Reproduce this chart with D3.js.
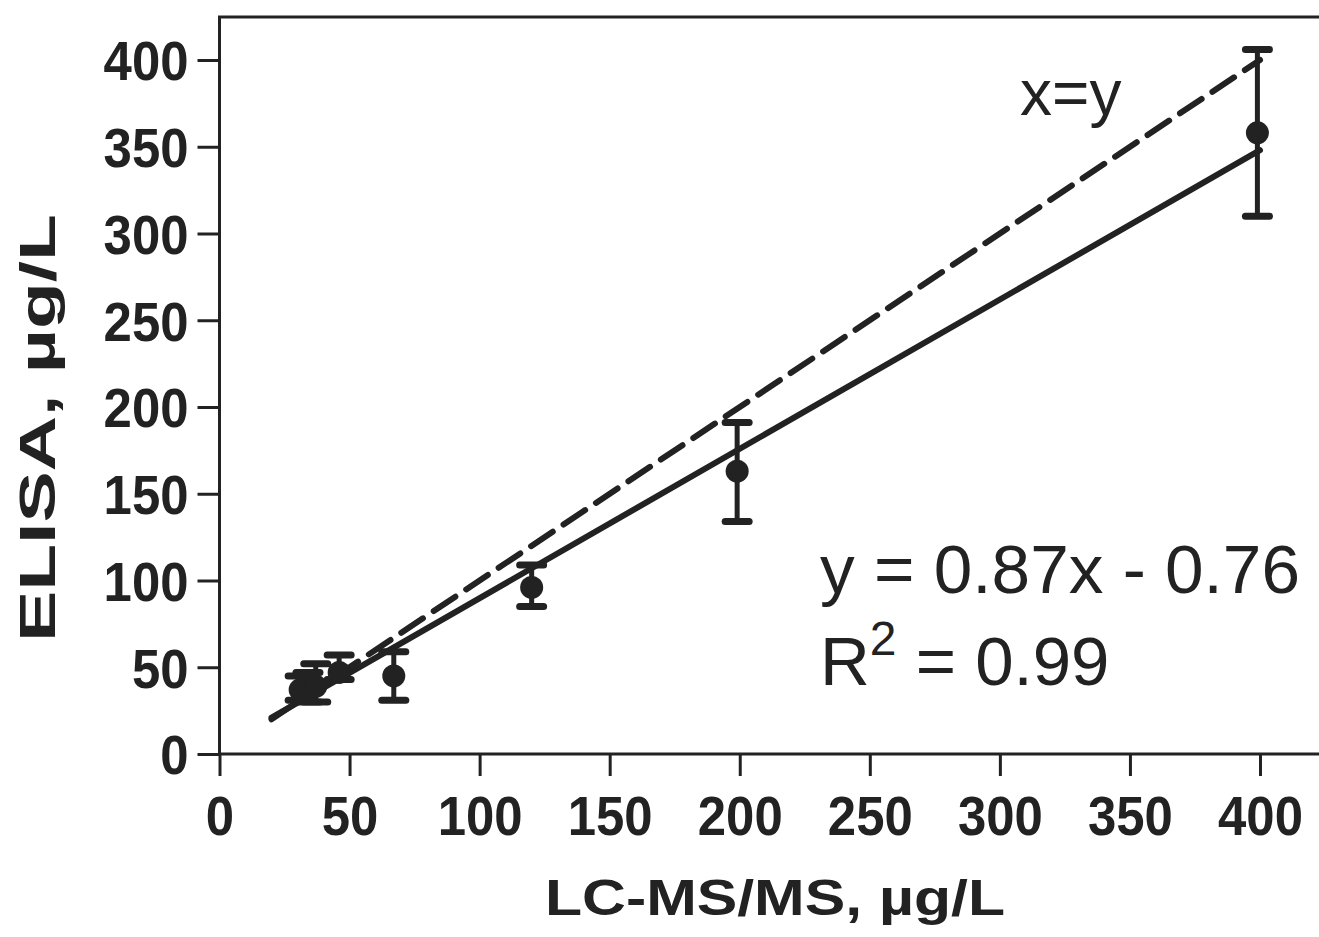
<!DOCTYPE html>
<html>
<head>
<meta charset="utf-8">
<script src="https://cdn.jsdelivr.net/npm/d3@7"></script>
<style>
  html, body { margin: 0; padding: 0; background: #fff; }
  svg { display: block; }
</style>
</head>
<body>
<svg id="chart" width="1319" height="937"></svg>
<script>
// ---- data ----
const lcms  = [31, 34, 37, 46, 67, 120, 199, 399];
const elisa = [37, 38, 39, 47, 45, 96, 163, 358];
const errLo = [31, 30, 30, 43, 31, 85, 134, 310];
const errHi = [45, 47, 52, 57, 59, 109, 191, 406];

const lineX     = [20, 400];
const identityY = [20, 400];
const fitY      = [21, 348];

const xTicks = [0, 50, 100, 150, 200, 250, 300, 350, 400];
const yTicks = [0, 50, 100, 150, 200, 250, 300, 350, 400];

const xTitle = "LC-MS/MS, µg/L";
const yTitle = "ELISA, µg/L";
const identityLabel = "x=y";
const eqLabel = "y = 0.87x - 0.76";

// ---- drawing ----
const ink = "#222";
const svg = d3.select("#chart");
const x = d3.scaleLinear().domain([0, 400]).range([219.5, 1260]);
const y = d3.scaleLinear().domain([0, 400]).range([754, 60]);

const font = "'Liberation Sans', Arial, sans-serif";

// frame (right side runs off the page)
const xEnd = x.invert(1330), yTop = y.invert(17);
svg.append("path")
  .attr("d", `M${x(xEnd)},${y(yTop)}H${x(0)}V${y(0)}H${x(xEnd)}`)
  .attr("fill", "none").attr("stroke", ink).attr("stroke-width", 3);

// axes
const tickLen = 22;
const yAxis = d3.axisLeft(y).tickValues(yTicks).tickSize(tickLen).tickPadding(9).tickSizeOuter(0);
const xAxis = d3.axisBottom(x).tickValues(xTicks).tickSize(tickLen).tickPadding(20).tickSizeOuter(0);

function styleAxis(g) {
  g.select(".domain").remove();
  g.selectAll(".tick line").attr("stroke", ink).attr("stroke-width", 3);
  g.selectAll(".tick text")
    .attr("fill", ink)
    .style("font-family", font)
    .style("font-weight", "bold")
    .style("font-size", "55px")
    .attr("textLength", d => String(d).length * 28.3)
    .attr("lengthAdjust", "spacingAndGlyphs");
}
svg.append("g").attr("transform", `translate(${x(0)},0)`).call(yAxis).call(styleAxis)
  .selectAll(".tick text").attr("dy", "0.36em");
svg.append("g").attr("transform", `translate(0,${y(0)})`).call(xAxis).call(styleAxis);

// axis titles
svg.append("text")
  .attr("x", 775).attr("y", 915)
  .attr("text-anchor", "middle")
  .attr("fill", ink)
  .style("font-family", font).style("font-weight", "bold").style("font-size", "50px")
  .attr("textLength", 460).attr("lengthAdjust", "spacingAndGlyphs")
  .text(xTitle);

svg.append("text")
  .attr("transform", "translate(55,428) rotate(-90)")
  .attr("text-anchor", "middle")
  .attr("fill", ink)
  .style("font-family", font).style("font-weight", "bold").style("font-size", "50px")
  .attr("textLength", 428).attr("lengthAdjust", "spacingAndGlyphs")
  .text(yTitle);

// lines
const line = d3.line().x(d => x(d[0])).y(d => y(d[1]));
svg.append("path")
  .datum(lineX.map((v, i) => [v, identityY[i]]))
  .attr("d", line)
  .attr("fill", "none").attr("stroke", ink).attr("stroke-width", 6)
  .attr("stroke-dasharray", "26,13").attr("stroke-linecap", "round");
svg.append("path")
  .datum(lineX.map((v, i) => [v, fitY[i]]))
  .attr("d", line)
  .attr("fill", "none").attr("stroke", ink).attr("stroke-width", 6)
  .attr("stroke-linecap", "round");

// error bars + points
const pts = lcms.map((v, i) => ({ x: v, y: elisa[i], lo: errLo[i], hi: errHi[i] }));
const g = svg.append("g");
g.selectAll(".eb").data(pts).join("line")
  .attr("x1", d => x(d.x)).attr("x2", d => x(d.x))
  .attr("y1", d => y(d.lo)).attr("y2", d => y(d.hi))
  .attr("stroke", ink).attr("stroke-width", 5);
["lo", "hi"].forEach(k => {
  g.selectAll(".cap-" + k).data(pts).join("line")
    .attr("x1", d => x(d.x) - 12).attr("x2", d => x(d.x) + 12)
    .attr("y1", d => y(d[k])).attr("y2", d => y(d[k]))
    .attr("stroke", ink).attr("stroke-width", 7).attr("stroke-linecap", "round");
});
g.selectAll("circle").data(pts).join("circle")
  .attr("cx", d => x(d.x)).attr("cy", d => y(d.y)).attr("r", 11.5)
  .attr("fill", ink);

// annotations
svg.append("text")
  .attr("x", 1020).attr("y", 115)
  .attr("fill", ink)
  .style("font-family", font).style("font-size", "64px")
  .text(identityLabel);

svg.append("text")
  .attr("x", 820).attr("y", 593)
  .attr("fill", ink)
  .style("font-family", font).style("font-size", "69px")
  .attr("textLength", 480).attr("lengthAdjust", "spacingAndGlyphs")
  .text(eqLabel);

const r2 = svg.append("text")
  .attr("x", 820).attr("y", 685)
  .attr("fill", ink)
  .style("font-family", font).style("font-size", "69px");
r2.append("tspan").text("R");
r2.append("tspan").attr("dy", -30).style("font-size", "48px").text("2");
r2.append("tspan").attr("dy", 30).text(" = 0.99");
</script>
</body>
</html>
